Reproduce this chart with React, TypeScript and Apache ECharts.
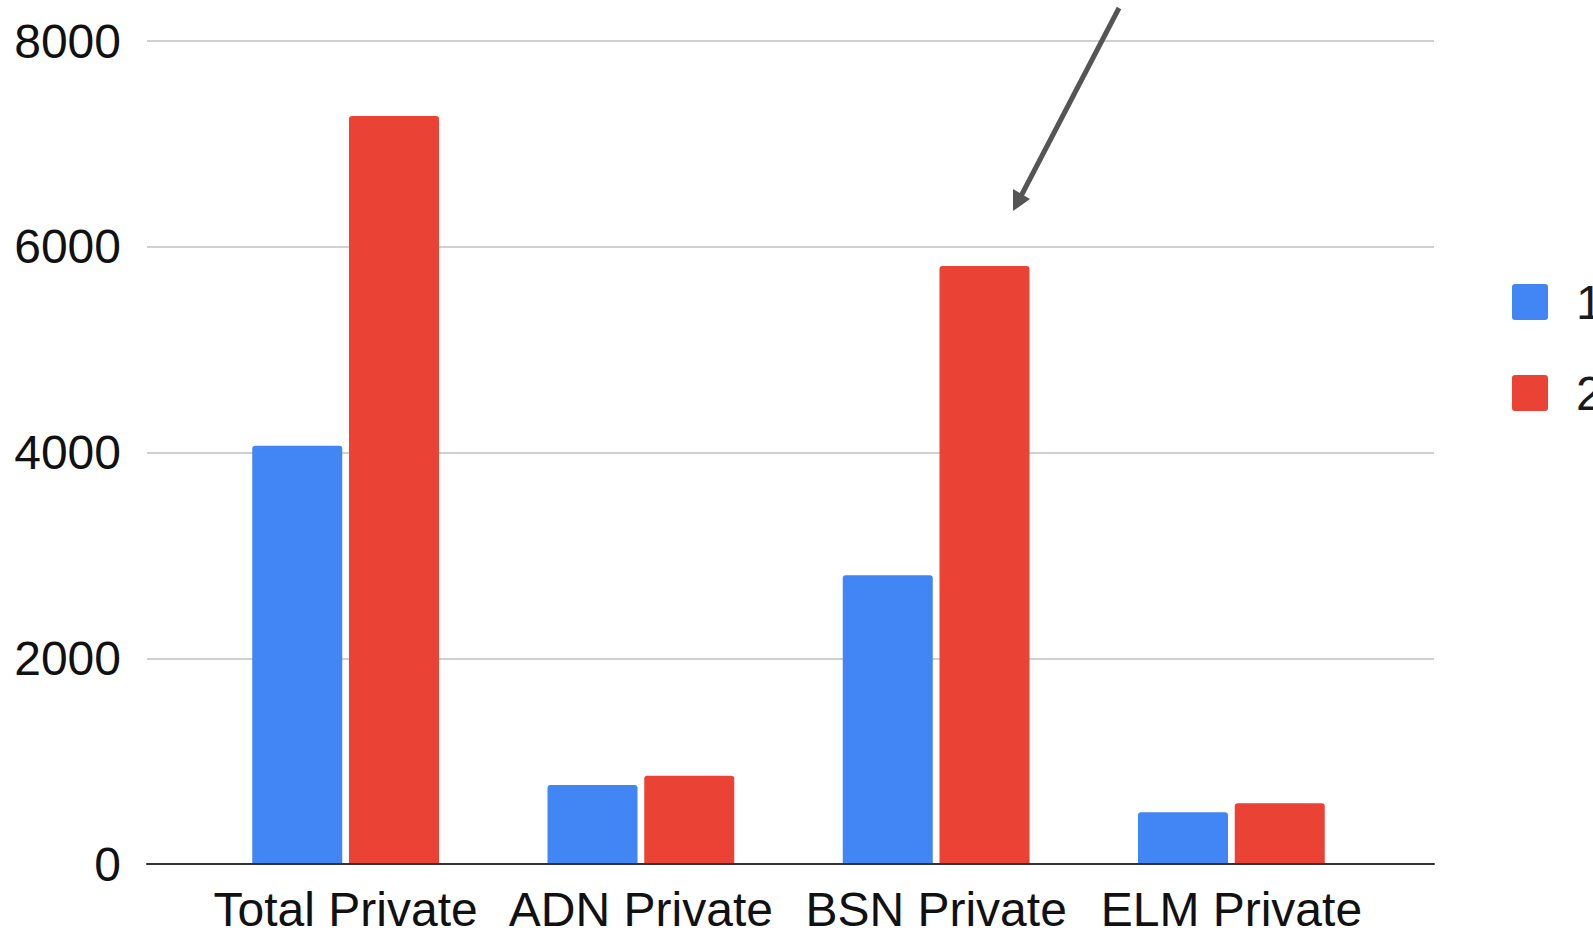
import React, { useEffect, useRef } from "react";
import * as echarts from "echarts";

const categories = ["Total Private", "ADN Private", "BSN Private", "ELM Private"];
const seriesNames = ["1", "2"];
const series1Values = [4065, 768, 2808, 502];
const series2Values = [7272, 858, 5814, 590];
const yTicks = [0, 2000, 4000, 6000, 8000];

const FONT = '"Liberation Sans", Arial, Helvetica, sans-serif';
const ICON =
  "path://M3,0H33A3,3 0 0 1 36,3V33A3,3 0 0 1 33,36H3A3,3 0 0 1 0,33V3A3,3 0 0 1 3,0Z";

export default function App() {
  const ref = useRef<HTMLDivElement>(null);
  useEffect(() => {
    if (!ref.current) return;
    const chart = echarts.init(ref.current, undefined, { renderer: "svg" });
    const yMin = yTicks[0];
    const yMax = yTicks[yTicks.length - 1];
    const yInterval = yTicks[1] - yTicks[0];
    chart.setOption({
      animation: false,
      backgroundColor: "#ffffff",
      grid: [
        { left: 147, right: 159, top: 41, bottom: 73 },
        { left: 198, right: 214, top: 41, bottom: 73 },
      ],
      legend: {
        orient: "vertical",
        left: 1512,
        top: 278,
        padding: 0,
        itemWidth: 36,
        itemHeight: 36,
        itemGap: 43,
        icon: ICON,
        data: seriesNames,
        textStyle: {
          fontSize: 48,
          fontFamily: FONT,
          color: "#1a1a1a",
          padding: [0, 0, 0, 23],
        },
      },
      xAxis: [
        {
          gridIndex: 0,
          type: "value",
          min: 0,
          max: 1,
          z: 5,
          axisLine: { show: true, onZero: false, lineStyle: { color: "#333333", width: 2 } },
          axisTick: { show: false },
          axisLabel: { show: false },
          splitLine: { show: false },
        },
        {
          gridIndex: 1,
          type: "category",
          data: categories,
          axisLine: { show: false },
          axisTick: { show: false },
          axisLabel: {
            fontSize: 48,
            fontFamily: FONT,
            color: "#111111",
            margin: 21,
            interval: 0,
          },
        },
      ],
      yAxis: [
        {
          gridIndex: 0,
          type: "value",
          min: yMin,
          max: yMax,
          interval: yInterval,
          axisLine: { show: false },
          axisTick: { show: false },
          axisLabel: {
            fontSize: 48,
            fontFamily: FONT,
            color: "#111111",
            margin: 26,
            formatter: (v: number) => String(v),
          },
          splitLine: { show: true, lineStyle: { color: "#d0d0d0", width: 2 } },
        },
        {
          gridIndex: 1,
          type: "value",
          min: yMin,
          max: yMax,
          interval: yInterval,
          show: false,
          splitLine: { show: false },
        },
      ],
      series: [
        {
          name: seriesNames[0],
          type: "bar",
          xAxisIndex: 1,
          yAxisIndex: 1,
          data: series1Values,
          barWidth: 90,
          barGap: "7.5%",
          itemStyle: { color: "#4285F4", borderRadius: [3, 3, 0, 0] },
        },
        {
          name: seriesNames[1],
          type: "bar",
          xAxisIndex: 1,
          yAxisIndex: 1,
          data: series2Values,
          barWidth: 90,
          barGap: "7.5%",
          itemStyle: { color: "#EA4335", borderRadius: [3, 3, 0, 0] },
        },
      ],
      graphic: [
        {
          type: "line",
          z: 10,
          shape: { x1: 1119, y1: 8, x2: 1020, y2: 198 },
          style: { stroke: "#555555", lineWidth: 5 },
        },
        {
          type: "polygon",
          z: 10,
          shape: {
            points: [
              [1013, 211],
              [1013, 189],
              [1030, 199],
            ],
          },
          style: { fill: "#555555" },
        },
      ],
    });
    return () => chart.dispose();
  }, []);
  return (
    <div
      ref={ref}
      style={{ position: "fixed", left: 0, top: 0, width: 1593, height: 937 }}
    />
  );
}
